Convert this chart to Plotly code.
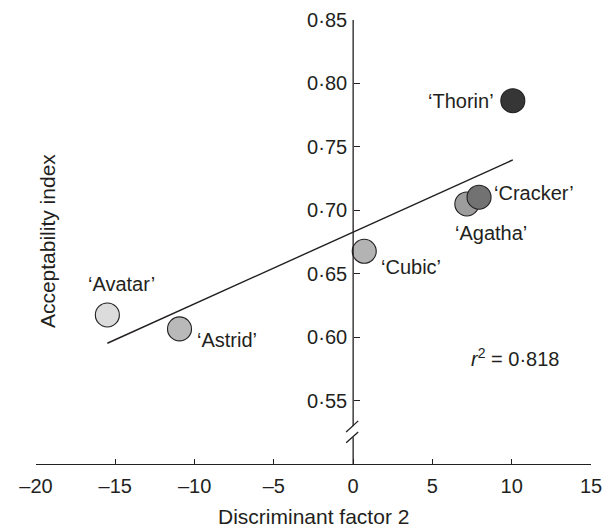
import numpy as np
import plotly.graph_objects as go

# ---- data ----
cultivars = ["Avatar", "Astrid", "Cubic", "Agatha", "Cracker", "Thorin"]
disc_factor2 = [-15.5, -10.95, 0.7, 7.17, 7.94, 10.07]
acceptability = [0.6175, 0.6065, 0.6677, 0.705, 0.7103, 0.7864]
fill_colors = ["#dcdcdc", "#b9b9b9", "#b3b3b3", "#9d9d9d", "#727272", "#363636"]
r2_text = "0·818"

x_tick_vals = [-20, -15, -10, -5, 0, 5, 10, 15]
x_tick_text = ["–20", "–15", "–10", "–5", "0", "5", "10", "15"]
y_tick_vals = [0.55, 0.60, 0.65, 0.70, 0.75, 0.80, 0.85]
y_tick_text = ["0·55", "0·60", "0·65", "0·70", "0·75", "0·80", "0·85"]

# label placement (pixel offsets from the point)
label_offsets = {
    "Avatar": dict(xshift=14, yshift=31, xanchor="center"),
    "Astrid": dict(xshift=15, yshift=-11, xanchor="left"),
    "Cubic": dict(xshift=15, yshift=-16, xanchor="left"),
    "Agatha": dict(xshift=24, yshift=-29, xanchor="center"),
    "Cracker": dict(xshift=13, yshift=4, xanchor="left"),
    "Thorin": dict(xshift=-17, yshift=0, xanchor="right"),
}

INK = "#231f20"
FONT = "Liberation Sans, Arial, Helvetica, sans-serif"
FS = 20
FS_TITLE = 21

# regression line computed from the data
slope, intercept = np.polyfit(disc_factor2, acceptability, 1)
fit_x = np.array([min(disc_factor2), max(disc_factor2)])
fit_y = slope * fit_x + intercept

fig = go.Figure()
fig.add_trace(go.Scatter(x=fit_x, y=fit_y, mode="lines",
                         line=dict(color=INK, width=1.4), showlegend=False,
                         hoverinfo="skip"))
fig.add_trace(go.Scatter(x=disc_factor2, y=acceptability, mode="markers",
                         marker=dict(size=24, color=fill_colors,
                                     line=dict(color=INK, width=1.1)),
                         showlegend=False, text=cultivars))

annotations = []
for name, xv, yv in zip(cultivars, disc_factor2, acceptability):
    o = label_offsets[name]
    annotations.append(dict(x=xv, y=yv, xref="x", yref="y", text=f"‘{name}’",
                            showarrow=False, xanchor=o["xanchor"], yanchor="middle",
                            xshift=o["xshift"], yshift=o["yshift"],
                            font=dict(size=FS, color=INK, family=FONT)))
annotations.append(dict(x=10.2, y=0.5836, xref="x", yref="y",
                        text=f"<i>r</i><sup>2</sup> = {r2_text}", showarrow=False,
                        xanchor="center", yanchor="middle",
                        font=dict(size=FS, color=INK, family=FONT)))
annotations.append(dict(x=0.0198, y=0.502, xref="paper", yref="paper",
                        text="Acceptability index", textangle=-90, showarrow=False,
                        xanchor="center", yanchor="middle",
                        font=dict(size=FS_TITLE, color=INK, family=FONT)))
annotations.append(dict(x=0.5, y=-0.119, xref="paper", yref="paper",
                        text="Discriminant factor 2", showarrow=False,
                        xanchor="center", yanchor="middle",
                        font=dict(size=FS_TITLE, color=INK, family=FONT)))

# y axis line drawn at x = 0 with a break near the bottom
shapes = [
    dict(type="line", xref="x", yref="y", x0=0, x1=0, y0=0.85, y1=0.5297,
         line=dict(color=INK, width=1.3)),
    dict(type="line", xref="x", yref="y", x0=0, x1=0, y0=0.521, y1=0.5,
         line=dict(color=INK, width=1.3)),
    dict(type="line", xref="x", yref="y", x0=-0.44, x1=0.32, y0=0.5253, y1=0.534,
         line=dict(color=INK, width=1.3)),
    dict(type="line", xref="x", yref="y", x0=-0.44, x1=0.32, y0=0.5167, y1=0.5253,
         line=dict(color=INK, width=1.3)),
]

# the page adds an 8 px body margin, so the figure is drawn 8 px smaller
fig.update_layout(
    width=604, height=523,
    margin=dict(l=28, r=21, t=12, b=67, autoexpand=False),
    paper_bgcolor="white", plot_bgcolor="white",
    font=dict(family=FONT, size=FS, color=INK),
    xaxis=dict(domain=[0, 1], range=[-20, 15], tickvals=x_tick_vals, ticktext=x_tick_text,
               ticks="inside", ticklen=5, tickwidth=1.2, tickcolor=INK,
               ticklabelstandoff=4,
               showline=True, linecolor=INK, linewidth=1.3, mirror=False,
               showgrid=False, zeroline=False, tickfont=dict(size=FS, color=INK)),
    yaxis=dict(range=[0.5, 0.85], anchor="free", position=20 / 35,
               tickvals=y_tick_vals, ticktext=y_tick_text,
               ticks="inside", ticklen=6, tickwidth=1.2, tickcolor=INK,
               ticklabelstandoff=6,
               showline=False, showgrid=False, zeroline=False,
               tickfont=dict(size=FS, color=INK)),
    annotations=annotations, shapes=shapes,
)

fig.write_html("out.html")
